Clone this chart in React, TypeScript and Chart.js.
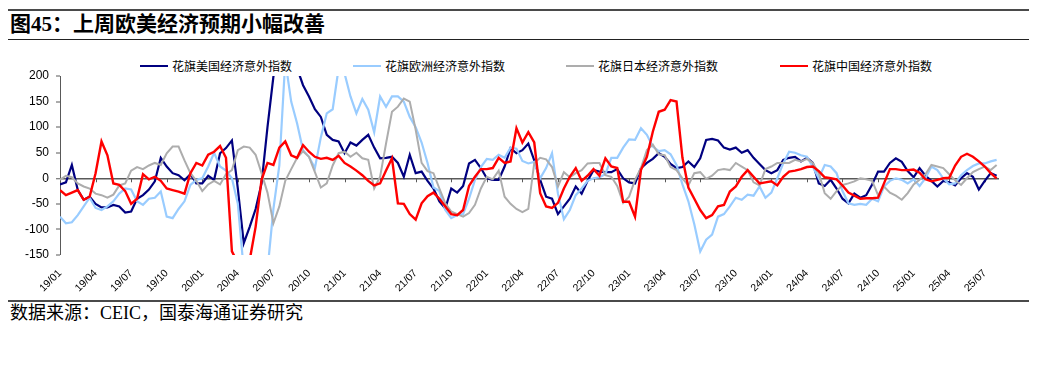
import React, { useEffect, useRef } from 'react';
import { Chart, registerables } from 'chart.js';

Chart.register(...registerables);

const TITLE = '图45：上周欧美经济预期小幅改善';
const SOURCE = '数据来源：CEIC，国泰海通证券研究';

const seriesNames = ['花旗美国经济意外指数', '花旗欧洲经济意外指数', '花旗日本经济意外指数', '花旗中国经济意外指数'];
const seriesColors = ['#000080', '#99CCFF', '#ADADAD', '#FF0000'];
const seriesWidths = [2.2, 2.2, 2, 2.4];

const quarterLabels = ['19/01', '19/04', '19/07', '19/10', '20/01', '20/04', '20/07', '20/10', '21/01', '21/04', '21/07', '21/10', '22/01', '22/04', '22/07', '22/10', '23/01', '23/04', '23/07', '23/10', '24/01', '24/04', '24/07', '24/10', '25/01', '25/04', '25/07'];

const yTicksMin = -150;
const yTicksMax = 200;

// half-monthly readings, 2019/01 .. 2025/08
const usIndex = [
  -12, -8, 26, -23, -42, -36, -50, -57, -57, -52, -55, -67, -65, -40, -33, -22, -6, 40, 23, 10, 6, -4, 8, -10,
  -10, 5, -3, 49, 59, 74, -20, -127, -95, -60, -10, 100, 199, 240, 270, 260, 215, 182, 160, 135, 120, 85, 75, 72,
  49, 70, 64, 75, 85, 60, 39, 40, 42, 30, 3, 46, 10, 13, -5, -20, -45, -59, -20, -28, -15, 29, 36, 20,
  0, -3, -3, 23, 59, 49, 55, 68, 35, -3, -36, -40, -70, -55, -40, -16, -30, -5, 16, 13, 12, 12, 18, 0,
  -8, -10, 20, 30, 38, 49, 42, 28, 20, 22, 33, 22, 39, 75, 77, 74, 60, 56, 60, 50, 55, 40, 28, 16,
  10, 16, 36, 40, 42, 33, 40, 30, -10, -15, -3, -20, -40, -49, -30, -38, -33, -12, 13, 13, 30, 39, 32, 14,
  2, 20, 5, -5, -16, -5, -8, -14, 0, 10, 3, -22, -5, 10, 5,
];

const euIndex = [
  -75, -88, -86, -72, -55, -38, -58, -62, -55, -45, -30, -20, -22, -45, -52, -40, -38, -26, -75, -78, -60, -45, -13, -3,
  0, 23, 50, 23, 15, 0, -50, -180, -200, -200, -200, -180, -60, 25, 230, 150, 107, 55, 42, 20, 80, 127, 135, 215,
  205, 160, 127, 155, 134, 90, 160, 140, 160, 160, 150, 120, 100, 70, 30, -18, -25, -62, -78, -72, -70, -40, -3, 22,
  38, 36, 46, 40, 60, 58, 34, 29, 32, 0, 20, 49, -30, -80, -62, -33, -20, -5, 0, 2, 8, 40, 40, 60,
  76, 75, 98, 85, 62, 53, 55, 47, 26, -12, -45, -90, -143, -120, -110, -75, -70, -55, -38, -42, -32, -34, -16, -38,
  -28, 0, 29, 52, 50, 45, 42, 22, 0, 26, 23, 10, -25, -49, -52, -50, -52, -40, -45, -16, -5, 0, -3, -10,
  -2, -15, 0, 23, 16, 0, -12, -10, 6, 16, 24, 29, 29, 33, 36,
];

const jpIndex = [
  -3, 5, 2, -10, -16, -20, -30, -33, -38, -32, -14, -10, 15, 22, 18, 25, 30, 26, 49, 62, 62, 35, 10, -5,
  -25, -12, -5, -12, 8, 16, 55, 62, 60, 46, 10, -28, -88, -55, -5, 18, 40, 53, 42, 12, -18, -10, 25, 49,
  52, 42, 50, 39, 36, -20, 3, 68, 130, 140, 156, 150, 95, 30, 14, 10, -20, -49, -65, -70, -75, -68, -52, -20,
  3, -2, 15, -36, -50, -60, -66, -60, 30, 40, 37, 22, -16, 12, 2, 10, 16, 29, 30, 30, 6, 3, -15, -48,
  -36, -3, 20, 55, 66, 47, 45, 22, 16, 0, -14, 10, 12, -1, 5, 16, 18, 16, 30, 23, 16, -8, -14, 18,
  23, 30, 30, 30, 36, 33, 38, 30, 10, -29, -40, -25, -13, -10, -6, 0, -2, -5, -33, -16, -28, -34, -42, -29,
  -12, -3, 8, 26, 23, 20, 8, -4, -13, 0, 12, 18, 23, 16, 26,
];

const cnIndex = [
  -23, -33, -28, -23, -42, -36, 10, 72, 45, -10, -13, -25, -50, -40, 8, -2, 3, -5, -20, -23, -26, -30, 10, 30,
  25, 46, 52, 63, 40, -143, -165, -160, -160, -95, -3, 30, 26, 60, 72, 45, 40, 65, 52, 42, 38, 40, 36, 44,
  30, 23, 15, 6, -5, -14, -10, 15, 39, -49, -50, -70, -81, -49, -35, -28, -40, -55, -70, -72, -62, -15, 3, 18,
  18, 20, 40, 30, 33, 98, 70, 90, 70, -29, -55, -58, -48, -20, 3, 20, -5, 5, 18, 5, 39, 23, 20, -46,
  -46, -75, 16, 42, 91, 130, 134, 153, 150, 40, -18, -40, -62, -78, -72, -55, -52, -26, -16, 3, 16, 3, -10, -8,
  -6, -14, 3, 13, 15, 18, 22, 23, 14, 2, 0, -2, -14, -28, -34, -40, -39, -39, -38, -10, 18, 18, 16, 16,
  17, 11, -2, -6, -3, 0, 1, 25, 42, 48, 42, 33, 23, 10, 0,
];

// month offsets from 2019/01 (half-month steps)
const periods = usIndex.map((_, i) => i * 0.5);

const zeroAxisTicks = {
  id: 'zeroAxisTicks',
  beforeDatasetsDraw(chart: any) {
    const { ctx, scales } = chart;
    const xs = scales.x;
    const y0 = scales.y.getPixelForValue(0);
    ctx.save();
    ctx.strokeStyle = '#595959';
    ctx.lineWidth = 1;
    xs.ticks.forEach((t: any) => {
      const px = Math.round(xs.getPixelForValue(t.value)) + 0.5;
      ctx.beginPath();
      ctx.moveTo(px, y0);
      ctx.lineTo(px, y0 + 4);
      ctx.stroke();
    });
    ctx.restore();
  },
};

export default function App() {
  const ref = useRef<HTMLCanvasElement>(null);

  useEffect(() => {
    const canvas = ref.current;
    if (!canvas) return;
    Chart.defaults.font.family = '"Liberation Sans", Arial, sans-serif';
    const seriesList = [usIndex, euIndex, jpIndex, cnIndex];
    const chart = new Chart(canvas, {
      type: 'line',
      data: {
        datasets: seriesList.map((vals, k) => ({
          label: seriesNames[k],
          data: vals.map((v, i) => ({ x: periods[i], y: v })),
          borderColor: seriesColors[k],
          backgroundColor: seriesColors[k],
          borderWidth: seriesWidths[k],
          pointRadius: 0,
          pointHoverRadius: 0,
          tension: 0,
          fill: false,
          order: 3 - k,
        })),
      },
      options: {
        animation: false,
        responsive: false,
        maintainAspectRatio: false,
        layout: { padding: { left: 0, right: 30, top: 7, bottom: 0 } },
        plugins: { legend: { display: false }, tooltip: { enabled: false } },
        scales: {
          x: {
            type: 'linear',
            min: 0,
            max: 79.2,
            afterFit: (s: any) => {
              s.height = 44;
              s.paddingLeft = 0;
              s.paddingRight = 0;
              s.paddingTop = 0;
              s.paddingBottom = 0;
            },
            border: { display: false },
            grid: { display: false },
            ticks: {
              stepSize: 3,
              autoSkip: false,
              includeBounds: false,
              maxRotation: 45,
              minRotation: 45,
              padding: 4,
              color: '#000',
              font: { size: 10.5 },
              callback: (v: any) => quarterLabels[Math.round(Number(v) / 3)] ?? '',
            },
          },
          y: {
            min: yTicksMin,
            max: yTicksMax,
            afterFit: (s: any) => {
              s.width = 52;
              s.paddingTop = 0;
              s.paddingBottom = 0;
              s.paddingLeft = 0;
              s.paddingRight = 0;
            },
            border: { display: true, color: '#595959', width: 1 },
            grid: {
              drawOnChartArea: true,
              color: (c: any) => (c.tick && c.tick.value === 0 ? '#595959' : 'rgba(0,0,0,0)'),
              lineWidth: (c: any) => (c.tick && c.tick.value === 0 ? 1.5 : 0),
              tickColor: '#595959',
              tickLength: 4,
              tickWidth: 1,
            },
            ticks: { stepSize: 50, color: '#000', padding: 7, font: { size: 12 } },
          },
        },
      },
      plugins: [zeroAxisTicks],
    } as any);
    return () => chart.destroy();
  }, []);

  const legendLefts = [132, 345, 558, 772];

  return (
    <div style={{ position: 'relative', width: 1021, height: 340 }}>
      <div style={{ position: 'absolute', left: -3, top: 1, width: 1025, height: 2, background: '#4a4a4a' }} />
      <div
        style={{
          position: 'absolute',
          left: 2,
          top: 5,
          height: 22,
          lineHeight: '22px',
          fontSize: 21,
          fontWeight: 700,
          fontFamily: '"Liberation Serif", "Noto Sans CJK SC", serif',
          color: '#000',
          whiteSpace: 'nowrap',
        }}
      >
        {TITLE}
      </div>
      <div style={{ position: 'absolute', left: -3, top: 31, width: 1025, height: 1, background: '#222' }} />

      {seriesNames.map((name, k) => (
        <div
          key={name}
          style={{
            position: 'absolute',
            left: legendLefts[k],
            top: 50,
            height: 16,
            display: 'flex',
            alignItems: 'center',
            whiteSpace: 'nowrap',
          }}
        >
          <div style={{ width: 28, height: k === 3 ? 2.5 : 2, background: seriesColors[k] }} />
          <span
            style={{
              marginLeft: 4,
              fontSize: 12,
              lineHeight: '16px',
              fontFamily: '"Noto Sans CJK SC", sans-serif',
              color: '#000',
            }}
          >
            {name}
          </span>
        </div>
      ))}

      <canvas ref={ref} width={1021} height={230} style={{ position: 'absolute', left: 0, top: 61, width: 1021, height: 230 }} />

      <div style={{ position: 'absolute', left: -3, top: 292, width: 1025, height: 2, background: '#4a4a4a' }} />
      <div
        style={{
          position: 'absolute',
          left: 2,
          top: 295,
          height: 20,
          lineHeight: '20px',
          fontSize: 18,
          fontFamily: '"Liberation Serif", "Noto Sans CJK SC", serif',
          color: '#000',
          whiteSpace: 'nowrap',
        }}
      >
        {SOURCE}
      </div>
    </div>
  );
}
